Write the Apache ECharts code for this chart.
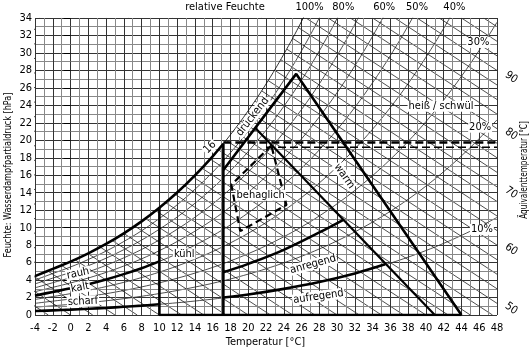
<!DOCTYPE html>
<html>
<head>
<meta charset="utf-8">
<script src="https://cdn.jsdelivr.net/npm/echarts@6/dist/echarts.min.js"></script>
<style>
html, body { margin: 0; padding: 0; background: #fff; }
#chart { width: 531px; height: 352px; }
</style>
</head>
<body>
<div id="chart"></div>
<script>
var schrift = "'Liberation Sans Narrow', 'DejaVu Sans Condensed', 'Noto Sans', sans-serif";

// Temperatur [°C] und Saettigungsdampfdruck [hPa]
var temperaturen = [-4, -2, 0, 2, 4, 6, 8, 10, 12, 14, 16, 18, 20, 22, 24, 26, 28, 30, 32, 34, 36, 38, 40, 42, 44, 46, 48];
var saettigung = [4.45, 5.28, 6.11, 7.06, 8.13, 9.35, 10.72, 12.28, 14.02, 15.99, 18.17, 20.64, 23.39, 26.44, 29.85, 33.61, 37.80, 42.43, 47.55, 53.20, 59.40, 66.24, 73.78, 82.05, 91.10, 101.0, 111.7];

// duenne Kurven relativer Feuchte [%]
var relFeuchten = [10, 20, 30, 40, 50, 60, 70, 80, 90];

// Linien gleicher Aequivalenttemperatur [°C] (te ~ t + 1.5 e)
var aequivalentLinien = [-2.5, 0, 2.5, 5, 7.5, 10, 12.5, 15, 17.5, 20, 22.5, 25, 27.5, 30, 32.5, 35, 37.5, 40, 42.5, 45, 47.5, 50, 52.5, 55, 57.5, 60, 62.5, 65, 67.5, 70, 72.5, 75, 77.5, 80, 82.5, 85, 87.5, 90, 92.5, 95, 97.5, 100];
var aeqFaktor = 1.5;

// Beschriftungen
var rfOben = ['100%', '80%', '60%', '50%', '40%'];
var rfObenT = [26.9, 30.7, 35.3, 39.0, 43.2];
var aeqSkala = ['50', '60', '70', '80', '90'];
var aeqSkalaE = [0.74, 7.5, 14.0, 20.7, 27.2];

// Grenzlinien der Bereiche (Temperatur, Dampfdruck)
var saettigungDick = [[-4, 4.45], [-2, 5.28], [0, 6.11], [2, 7.06], [4, 8.13], [6, 9.35], [8, 10.72], [10, 12.28], [12, 14.02], [14, 15.99], [16, 18.17], [17.2, 19.6]];
var kaltLinie = [[-4, 2.22], [-2, 2.64], [0, 3.06], [2, 3.53], [4, 4.07], [6, 4.68], [8, 5.36], [10, 6.14]];
var scharfLinie = [[-4, 0.45], [-2, 0.53], [0, 0.61], [2, 0.71], [4, 0.81], [6, 0.94], [8, 1.07], [10, 1.23]];
var grenze10 = [[10, 12.28], [10, 0], [44, 0]];
var grenze17 = [[17.2, 19.6], [17.2, 0]];
var dreieck = [[17.2, 16.6], [25.4, 27.6], [44, 0]];
var warmLinie = [[20.8, 21.4], [41, 0]];
var anregend = [[17.2, 4.9], [20, 5.85], [24, 7.46], [28, 9.45], [30.7, 10.9]];
var aufregend = [[17.2, 2.0], [20, 2.34], [24, 2.99], [28, 3.78], [32, 4.76], [35.4, 5.8]];
var schwuele = [[17.2, 19.75], [48, 19.75]];
var schwuele2 = [[22, 19.2], [48, 19.2]];
var behaglich = [[22.6, 19.4], [18.1, 14.9], [19.1, 9.6], [24.3, 12.6], [22.6, 19.4]];

var texte = [
  { t: 21.4, e: 13.7, text: 'behaglich', rot: 0 },
  { t: 12.8, e: 7.0, text: 'kühl', rot: 0 },
  { t: 27.3, e: 5.8, text: 'anregend', rot: 15 },
  { t: 27.9, e: 2.1, text: 'aufregend', rot: 8 },
  { t: 30.8, e: 15.9, text: 'warm', rot: -55 },
  { t: 20.5, e: 22.7, text: 'drückend', rot: 52 },
  { t: 15.7, e: 19.2, text: '16', rot: 45 },
  { t: 41.7, e: 23.9, text: 'heiß / schwül', rot: 0 },
  { t: 0.84, e: 4.75, text: 'rauh', rot: 12 },
  { t: 1.07, e: 3.15, text: 'kalt', rot: 10 },
  { t: 1.4, e: 1.55, text: 'scharf', rot: 3 },
  { t: 45.9, e: 31.2, text: '30%', rot: 0 },
  { t: 46.1, e: 21.5, text: '20%', rot: 0 },
  { t: 46.3, e: 9.8, text: '10%', rot: 0 }
];

var myChart = echarts.init(document.getElementById('chart'));

function linie(daten, breite, z, typ, glatt) {
  return {
    type: 'line',
    data: daten,
    showSymbol: false,
    symbol: 'none',
    smooth: glatt || false,
    silent: true,
    z: z,
    lineStyle: { color: '#000', width: breite, type: typ || 'solid' }
  };
}

var series = [];

// Aequivalenttemperatur-Linien
aequivalentLinien.forEach(function (te) {
  series.push(linie([[te, 0], [te - aeqFaktor * 34, 34]], 0.7, 2));
});

// relative Feuchte
relFeuchten.forEach(function (rf) {
  series.push(linie(temperaturen.map(function (t, i) {
    return [t, saettigung[i] * rf / 100];
  }), 0.7, 2, 'solid', 0.4));
});

// weisse Flaeche oberhalb der Saettigung
var satDaten = temperaturen.map(function (t, i) { return [t, saettigung[i]]; });
series.push({
  type: 'line',
  data: satDaten,
  showSymbol: false,
  smooth: 0.4,
  silent: true,
  z: 3,
  lineStyle: { width: 0, opacity: 0 },
  areaStyle: { color: '#fff', opacity: 1, origin: 'end' }
});
series.push(linie(satDaten, 0.8, 5, 'solid', 0.4));

// dicke Grenzlinien
series.push(linie(saettigungDick, 2.6, 6, 'solid', 0.4));
series.push(linie(kaltLinie, 2.6, 6, 'solid', 0.4));
series.push(linie(scharfLinie, 2.6, 6, 'solid', 0.4));
series.push(linie(grenze10, 2.6, 6));
series.push(linie(grenze17, 2.6, 6));
series.push(linie(dreieck, 2.6, 6));
series.push(linie(warmLinie, 2.2, 6));
series.push(linie(anregend, 2.6, 6, 'solid', 0.4));
series.push(linie(aufregend, 2.6, 6, 'solid', 0.4));
series.push(linie(schwuele, 2.4, 6, [8, 4]));
series.push(linie(schwuele2, 1.4, 6, [8, 4]));
series.push(linie(behaglich, 2.2, 6, [7, 4]));

var option = {
  animation: false,
  grid: { left: 35, right: 34, top: 18, bottom: 37 },
  xAxis: {
    type: 'value', min: -4, max: 48, interval: 2, z: 4,
    axisLine: { show: false },
    axisTick: { show: false },
    axisLabel: { color: '#000', fontSize: 11, fontFamily: schrift, margin: 8 },
    splitLine: { show: true, lineStyle: { color: '#333', width: 1 } },
    minorTick: { show: false, splitNumber: 2 },
    minorSplitLine: { show: true, lineStyle: { color: '#888', width: 1 } }
  },
  yAxis: {
    type: 'value', min: 0, max: 34, interval: 2, z: 4,
    axisLine: { show: false },
    axisTick: { show: true, length: 7, lineStyle: { color: '#000' } },
    axisLabel: { color: '#000', fontSize: 11, fontFamily: schrift, margin: 3 },
    splitLine: { show: true, lineStyle: { color: '#333', width: 1 } },
    minorTick: { show: true, splitNumber: 2, length: 4, lineStyle: { color: '#888' } },
    minorSplitLine: { show: true, lineStyle: { color: '#888', width: 1 } }
  },
  series: series
};

myChart.setOption(option);

// Texte ueber die Achsen positionieren
function textAn(t, e, text, rotGrad, extra) {
  var p = myChart.convertToPixel({ gridIndex: 0 }, [t, e]);
  var el = {
    type: 'text',
    x: p[0],
    y: p[1],
    rotation: rotGrad * Math.PI / 180,
    z: 20,
    silent: true,
    style: {
      text: text,
      font: '11px ' + schrift,
      fill: '#000',
      align: 'center',
      verticalAlign: 'middle'
    }
  };
  if (extra) {
    for (var k in extra) el.style[k] = extra[k];
  }
  return el;
}

var grafik = [
  { type: 'text', left: 'center', top: 337, style: { text: 'Temperatur [°C]', font: '11px ' + schrift, fill: '#000' } },
  { type: 'text', x: 225, y: 7, style: { text: 'relative Feuchte', font: '11px ' + schrift, fill: '#000', align: 'center', verticalAlign: 'middle' } },
  { type: 'text', x: 8, y: 175, rotation: Math.PI / 2, scaleX: 0.82, style: { text: 'Feuchte: Wasserdampfpartialdruck [hPa]', font: '11px ' + schrift, fill: '#000', align: 'center', verticalAlign: 'middle' } },
  { type: 'text', x: 524, y: 170, rotation: Math.PI / 2, scaleX: 0.74, style: { text: 'Äquivalenttemperatur [°C]', font: '11px ' + schrift, fill: '#000', align: 'center', verticalAlign: 'middle' } }
];

texte.forEach(function (d) {
  grafik.push(textAn(d.t, d.e, d.text, d.rot, { backgroundColor: '#fff', padding: [0, 1] }));
});
rfOben.forEach(function (s, i) {
  var el = textAn(rfObenT[i], 34, s, 0);
  el.y -= 11;
  grafik.push(el);
});
aeqSkala.forEach(function (s, i) {
  grafik.push(textAn(49.6, aeqSkalaE[i], s, -35));
});

myChart.setOption({ graphic: grafik });
</script>
</body>
</html>
